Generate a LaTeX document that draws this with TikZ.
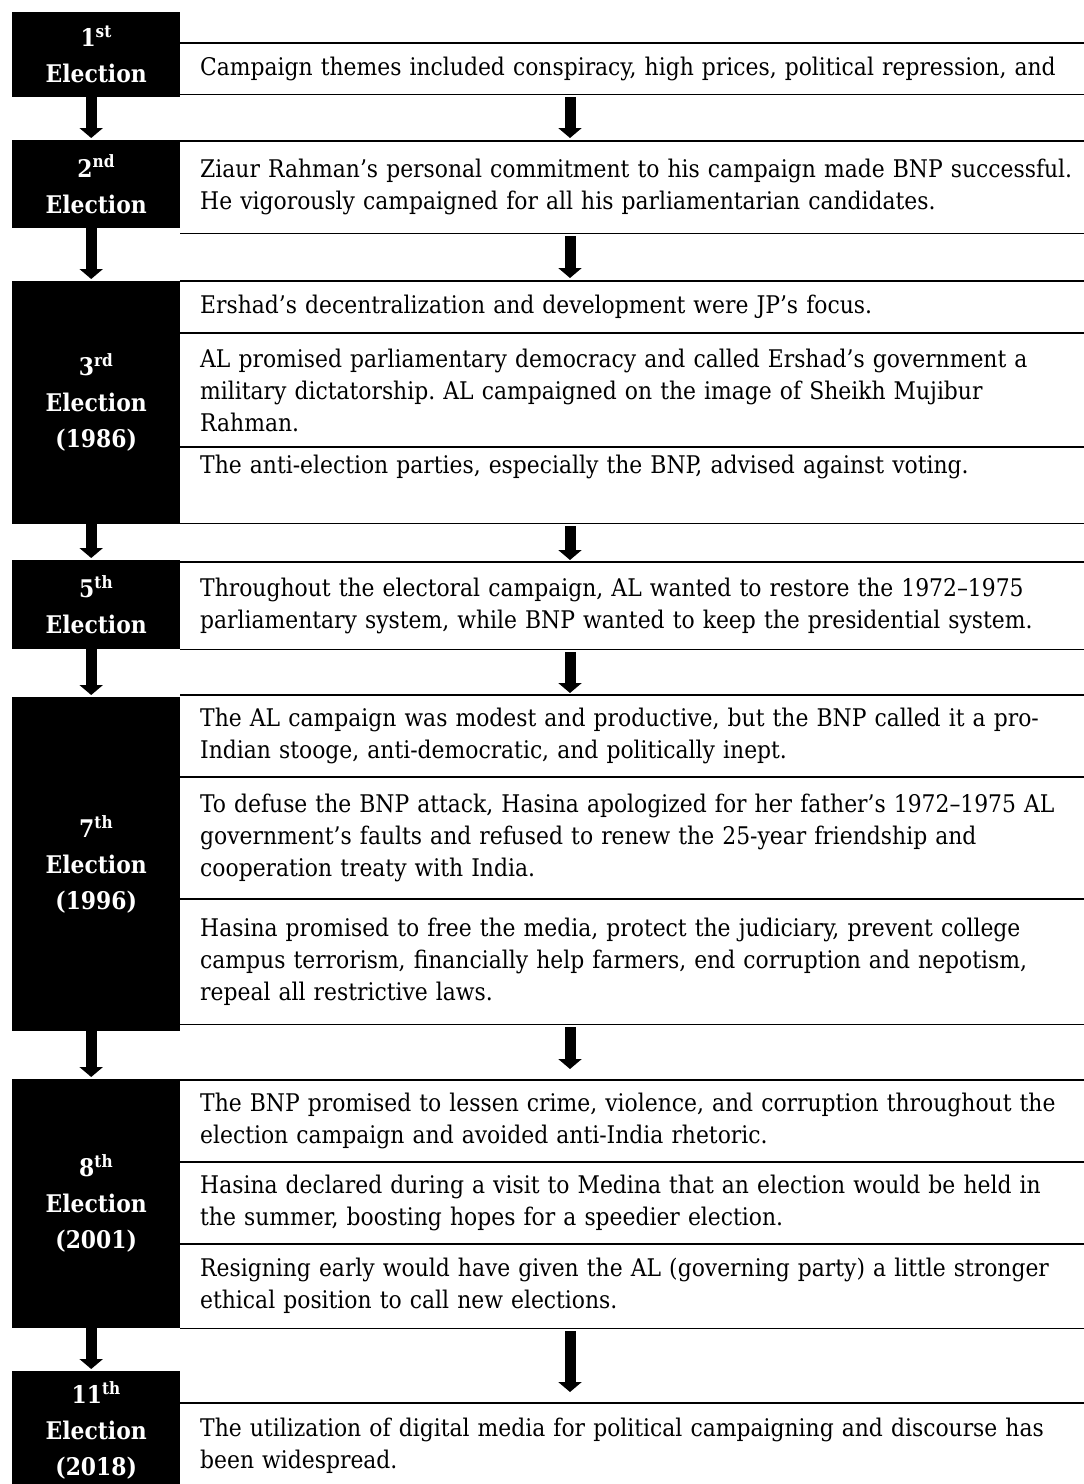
\documentclass[tikz,border=0pt]{standalone}
\usepackage{fontspec}
\setmainfont{DejaVu Serif Condensed}
\usepackage{tikz}
\usetikzlibrary{calc,arrows.meta}
\frenchspacing

\begin{document}
\begin{tikzpicture}[x=1pt,y=-1pt,
        stage/.style={fill=black,text=white,font=\bfseries\fontsize{24.3}{36}\selectfont,align=center,anchor=north west,minimum width=168pt,inner sep=0pt},
        row/.style={anchor=north west,text width=900pt,inner xsep=20pt,inner ysep=0pt,align=left,font=\fontsize{24.3}{32}\selectfont},
        rule/.style={line width=1.3pt},
        flow/.style={line width=11pt,-{Triangle[width=23pt,length=10pt]}}]
            \useasboundingbox (0,0) rectangle (1084,1484);
            \coordinate (edge) at (1084,0);
            \coordinate (ax) at (570,0);
            \node[stage,minimum height=85pt] (e1) at (12,12) {1\textsuperscript{st}\\Election};
            \node[stage,minimum height=88pt] (e2) at (12,140) {2\textsuperscript{nd}\\Election};
            \node[stage,minimum height=243pt] (e3) at (12,281) {3\textsuperscript{rd}\\Election\\(1986)};
            \node[stage,minimum height=89pt] (e5) at (12,560) {5\textsuperscript{th}\\Election};
            \node[stage,minimum height=334pt] (e7) at (12,697) {7\textsuperscript{th}\\Election\\(1996)};
            \node[stage,minimum height=249pt] (e8) at (12,1079) {8\textsuperscript{th}\\Election\\(2001)};
            \node[stage,minimum height=118pt] (e11) at (12,1371) {11\textsuperscript{th}\\Election\\(2018)};
            \node[row,minimum height=51pt] (r1) at (180,43) {Campaign themes included conspiracy, high prices, political repression, and};
            \node[row,minimum height=92pt] (r2) at (180,141) {Ziaur Rahman’s personal commitment to his campaign made BNP successful.\\He vigorously campaigned for all his parliamentarian candidates.};
            \node[row,minimum height=52pt] (r3a) at (180,281) {Ershad’s decentralization and development were JP’s focus.};
            \node[row,minimum height=114pt] (r3b) at (180,333) {AL promised parliamentary democracy and called Ershad’s government a\\military dictatorship. AL campaigned on the image of Sheikh Mujibur\\Rahman.};
            \node[row,minimum height=76pt] (r3c) at (180,447) {The anti-election parties, especially the BNP, advised against voting.\\\strut};
            \node[row,minimum height=87pt] (r5) at (180,562) {Throughout the electoral campaign, AL wanted to restore the 1972–1975\\parliamentary system, while BNP wanted to keep the presidential system.};
            \node[row,minimum height=82pt] (r7a) at (180,695) {The AL campaign was modest and productive, but the BNP called it a pro-\\Indian stooge, anti-democratic, and politically inept.};
            \node[row,minimum height=122pt] (r7b) at (180,777) {To defuse the BNP attack, Hasina apologized for her father’s 1972–1975 AL\\government’s faults and refused to renew the 25-year friendship and\\cooperation treaty with India.};
            \node[row,minimum height=125pt] (r7c) at (180,899) {Hasina promised to free the media, protect the judiciary, prevent college\\campus terrorism, financially help farmers, end corruption and nepotism,\\repeal all restrictive laws.};
            \node[row,minimum height=82pt] (r8a) at (180,1080) {The BNP promised to lessen crime, violence, and corruption throughout the\\election campaign and avoided anti-India rhetoric.};
            \node[row,minimum height=82pt] (r8b) at (180,1162) {Hasina declared during a visit to Medina that an election would be held in\\the summer, boosting hopes for a speedier election.};
            \node[row,minimum height=84pt] (r8c) at (180,1244) {Resigning early would have given the AL (governing party) a little stronger\\ethical position to call new elections.};
            \node[row,minimum height=86pt] (r11) at (180,1403) {The utilization of digital media for political campaigning and discourse has\\been widespread.};
            \foreach \r in {r1,r2,r3a,r3b,r3c,r5,r7a,r7b,r7c,r8a,r8b,r8c}
                \draw[rule] (\r.north west) -- (\r.north -| edge) (\r.south west) -- (\r.south -| edge);
            \draw[rule] (r11.north west) -- (r11.north -| edge);
            \foreach \a/\b in {e1/e2,e2/e3,e3/e5,e5/e7,e7/e8,e8/e11}
                \draw[flow,shorten >=2pt] ([xshift=-5pt]\a.south) -- ([xshift=-5pt]\b.north);
            \foreach \a/\b/\s in {r1/r2/3,r2/r3a/3,r3c/r5/2,r5/r7a/2,r7c/r8a/11,r8c/r11/11}
                \draw[flow,shorten <=3pt,shorten >=\s pt] (\a.south -| ax) -- (\b.north -| ax);
\end{tikzpicture}
\end{document}
